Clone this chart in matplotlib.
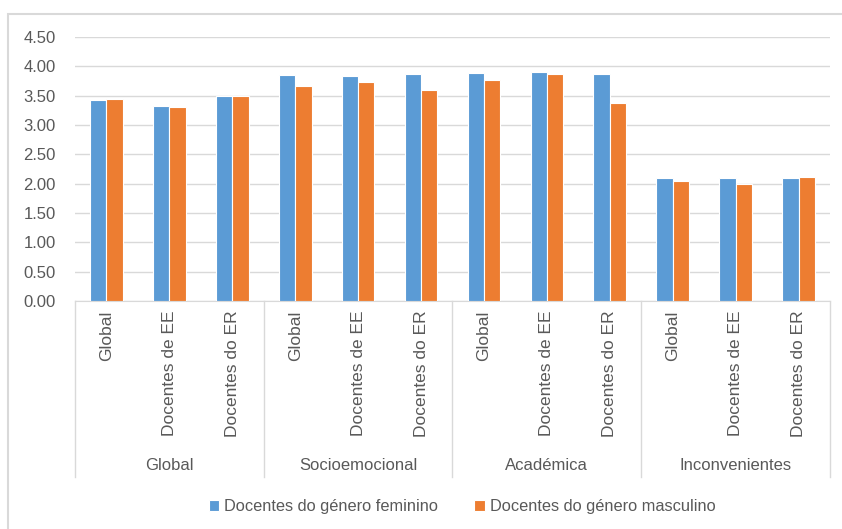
import matplotlib.pyplot as plt
import matplotlib.transforms as mtransforms
from matplotlib.patches import Rectangle
import numpy as np

plt.rcParams['font.family'] = ['Liberation Sans Narrow', 'Liberation Sans', 'DejaVu Sans']

groups = ['Global', 'Socioemocional', 'Académica', 'Inconvenientes']
subcats = ['Global', 'Docentes de EE', 'Docentes do ER']
feminino = [3.42, 3.33, 3.49, 3.85, 3.83, 3.87, 3.89, 3.90, 3.87, 2.09, 2.09, 2.09]
masculino = [3.44, 3.30, 3.49, 3.67, 3.73, 3.60, 3.76, 3.87, 3.37, 2.04, 2.00, 2.11]
series_names = ['Docentes do género feminino', 'Docentes do género masculino']

blue = '#5B9BD5'
orange = '#ED7D31'
txt = '#595959'
grid = '#D9D9D9'

W, H = 842, 529
fig = plt.figure(figsize=(W / 100, H / 100), dpi=100)
ax = fig.add_axes([75 / W, 1 - 301 / H, 755 / W, 264 / H])

x = np.arange(len(feminino))
bw = 0.26
ax.bar(x - bw / 2, feminino, bw, color=blue, edgecolor='white', linewidth=0.8,
       label=series_names[0], zorder=3)
ax.bar(x + bw / 2, masculino, bw, color=orange, edgecolor='white', linewidth=0.8,
       label=series_names[1], zorder=3)

ax.set_xlim(-0.5, len(feminino) - 0.5)
ax.set_ylim(0, 4.5)
ax.set_yticks(np.arange(0, 4.51, 0.5))
ax.set_yticklabels([f'{v:.2f}' for v in np.arange(0, 4.51, 0.5)], fontsize=12, color=txt)
ax.yaxis.grid(True, color=grid, linewidth=1)
ax.set_axisbelow(True)
for s in ['top', 'right', 'left']:
    ax.spines[s].set_visible(False)
ax.spines['bottom'].set_color(grid)
ax.tick_params(axis='y', length=0, pad=14)
ax.tick_params(axis='x', length=0, pad=7)

ax.set_xticks(x)
ax.set_xticklabels(subcats * len(groups), rotation=90, fontsize=12.5, color=txt, va='top')

trans = mtransforms.blended_transform_factory(ax.transData, ax.transAxes)
for b in [-0.5, 2.5, 5.5, 8.5, 11.5]:
    ax.plot([b, b], [0, -176 / 264], transform=trans, color=grid, linewidth=1, clip_on=False)
for i, g in enumerate(groups):
    ax.text(3 * i + 1, -164 / 264, g, transform=trans, ha='center', va='center',
            fontsize=12, color=txt)

fig.legend(loc='center', bbox_to_anchor=(462 / W, 1 - 507 / H), ncol=2, frameon=False,
           fontsize=11.8, labelcolor=txt, handlelength=0.65, handleheight=0.65,
           handletextpad=0.3, columnspacing=2.2)

fig.patches.append(Rectangle((8 / W, -0.1), 1.2, 1.1 - 14 / H, transform=fig.transFigure,
                             fill=False, edgecolor=grid, linewidth=1.5))

fig.savefig('out.png', dpi=100, facecolor='white')
